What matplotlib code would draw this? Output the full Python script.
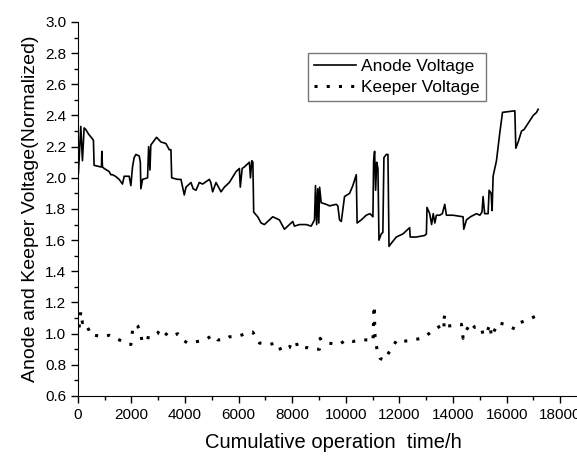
import matplotlib
matplotlib.use("Agg")
import matplotlib.pyplot as plt
from matplotlib.ticker import MultipleLocator

plt.rcParams['font.family'] = ['Liberation Sans', 'DejaVu Sans']

# anode voltage trace (time in h, normalized voltage)
anode_t = [20, 108, 170, 232, 295, 400, 543, 580, 605, 855, 880, 893, 917, 980,
           1166, 1230, 1291, 1400, 1540, 1664, 1727, 1914, 1977, 2038, 2100, 2164,
           2288, 2330, 2350, 2412, 2600, 2640, 2690, 2720, 2762, 2935, 3098, 3285,
           3410, 3472, 3500, 3720, 3846, 3970, 4033, 4220, 4300, 4407, 4530, 4654,
           4904, 4960, 5028, 5155, 5340, 5465, 5652, 5902, 6026, 6060, 6130, 6213,
           6400, 6440, 6490, 6530, 6560, 6710, 6837, 6960, 7084, 7270, 7520, 7708,
           7895, 8018, 8080, 8268, 8518, 8705, 8830, 8866, 8910, 8950, 8990, 9020,
           9080, 9267, 9390, 9640, 9700, 9764, 9830, 9950, 10138, 10260, 10388,
           10420, 10575, 10760, 10900, 11010, 11035, 11072, 11110, 11150, 11197,
           11235, 11320, 11380, 11420, 11510, 11570, 11610, 11695, 11880, 12130,
           12380, 12400, 12630, 12940, 13005, 13028, 13128, 13200, 13260, 13320,
           13378, 13500, 13600, 13690, 13752, 14000, 14374, 14400, 14500, 14650,
           14873, 15000, 15080, 15120, 15180, 15307, 15345, 15420, 15457, 15494,
           15620, 15745, 15845, 16305, 16342, 16430, 16555, 16650, 16803, 16990,
           17116, 17176]
anode_v = [2.03, 2.33, 2.11, 2.32, 2.31, 2.28, 2.25, 2.24, 2.08, 2.07, 2.07, 2.17, 2.07, 2.06,
           2.04, 2.02, 2.02, 2.01, 1.99, 1.96, 2.01, 2.01, 1.95, 2.07, 2.13, 2.15,
           2.14, 2.10, 1.93, 1.99, 2.00, 2.20, 2.05, 2.21, 2.22, 2.26, 2.23, 2.22,
           2.18, 2.18, 2.00, 1.99, 1.99, 1.89, 1.94, 1.97, 1.93, 1.92, 1.97, 1.96,
           1.99, 1.97, 1.91, 1.97, 1.91, 1.94, 1.97, 2.04, 2.06, 1.94, 2.06, 2.07,
           2.10, 2.00, 2.11, 2.10, 1.78, 1.75, 1.71, 1.70, 1.72, 1.75, 1.73, 1.67,
           1.70, 1.72, 1.69, 1.70, 1.70, 1.69, 1.73, 1.95, 1.70, 1.93, 1.71, 1.94,
           1.84, 1.83, 1.82, 1.83, 1.82, 1.73, 1.72, 1.88, 1.90, 1.95, 2.02,
           1.71, 1.73, 1.76, 1.77, 1.75, 2.11, 2.17, 1.92, 2.10, 2.06,
           1.60, 1.64, 1.65, 2.13, 2.15, 2.15, 1.56, 1.58, 1.62, 1.64,
           1.68, 1.62, 1.62, 1.63, 1.64, 1.81, 1.77, 1.70, 1.77, 1.71,
           1.76, 1.76, 1.77, 1.83, 1.76, 1.76, 1.75, 1.67, 1.73, 1.75,
           1.77, 1.76, 1.78, 1.88, 1.77, 1.77, 1.92, 1.90, 1.79, 2.01,
           2.11, 2.29, 2.42, 2.43, 2.19, 2.23, 2.30, 2.31, 2.35, 2.40,
           2.42, 2.44]

# keeper voltage trace
keeper_t = [45, 108, 170, 230, 420, 480, 605, 980, 1166, 1290, 1540, 1977, 2040,
            2164, 2230, 2350, 2390, 2475, 2725, 2972, 3060, 3346, 3510, 3720, 3906,
            4093, 4467, 4716, 4840, 5028, 5215, 5465, 5652, 5902, 6276, 6525, 6773,
            7084, 7457, 7582, 7895, 7956, 8145, 8205, 8580, 8767, 9016, 9040, 9117,
            9326, 9740, 10014, 10262, 10575, 10885, 11010, 11030, 11045, 11060, 11072,
            11090, 11160, 11285, 11445, 11607, 11730, 11905, 12130, 12504, 12817,
            13100, 13250, 13437, 13625, 13690, 13650, 13700, 13875, 14313, 14375,
            14430, 14650, 14810, 15060, 15120, 15245, 15370, 15435, 15680, 15930,
            16305, 16490, 16803, 17053, 17176]
keeper_v = [1.04, 1.14, 1.07, 1.08, 1.02, 0.99, 0.99, 0.98, 0.99, 0.98, 0.96, 0.93, 1.02,
            1.06, 1.05, 1.00, 0.95, 0.98, 0.97, 1.00, 1.03, 0.99, 0.98, 1.00, 0.96,
            0.94, 0.95, 0.96, 0.97, 0.99, 0.96, 0.96, 0.98, 0.98, 1.00, 1.01, 0.94,
            0.93, 0.94, 0.89, 0.91, 0.94, 0.95, 0.91, 0.91, 0.90, 0.90, 0.97, 0.95,
            0.94, 0.93, 0.96, 0.95, 0.96, 0.96, 0.95, 1.06, 1.15, 1.18, 1.08,
            0.98, 0.90, 0.84, 0.83, 0.88, 0.91, 0.96, 0.95, 0.96, 0.97,
            1.00, 1.02, 1.04, 1.06, 1.12, 1.03, 1.05, 1.05, 1.06, 0.97,
            1.00, 1.07, 1.04, 1.04, 0.99, 1.00, 1.06, 0.98, 1.07, 1.06,
            1.03, 1.07, 1.09, 1.11, 1.11]

fig = plt.figure(figsize=(5.77, 4.57), dpi=100)
ax = fig.add_axes([0.135, 0.1335, 0.865, 0.8184])

ax.plot(anode_t, anode_v, color='black', lw=1.2, label='Anode Voltage')
ax.plot(keeper_t, keeper_v, color='black', lw=2.2, linestyle=(0, (1, 3)),
        label='Keeper Voltage')

ax.set_xlim(0, 18625)
ax.set_ylim(0.6, 3.0)
ax.xaxis.set_major_locator(MultipleLocator(2000))
ax.xaxis.set_minor_locator(MultipleLocator(1000))
ax.yaxis.set_major_locator(MultipleLocator(0.2))
ax.yaxis.set_minor_locator(MultipleLocator(0.1))
ax.set_yticks([0.6 + 0.2 * i for i in range(13)])
ax.set_yticklabels([f"{0.6 + 0.2 * i:.1f}" for i in range(13)])

ax.spines['top'].set_visible(False)
ax.spines['right'].set_visible(False)
ax.tick_params(which='major', direction='out', length=5, width=1, labelsize=11)
ax.tick_params(which='minor', direction='out', length=3, width=1)

ax.set_xlabel('Cumulative operation  time/h', fontsize=14.5, labelpad=8)
ax.xaxis.set_label_coords(0.512, -0.1)
ax.set_ylabel('Anode and Keeper Voltage(Normalized)', fontsize=14, labelpad=4)

leg = ax.legend(loc='upper left', bbox_to_anchor=(308 / 577, 1 - 53 / 457),
                bbox_transform=fig.transFigure, borderaxespad=0, fontsize=12.5,
                frameon=True, fancybox=False, edgecolor='#555555', handlelength=2.4,
                handletextpad=0.3, borderpad=0.35, labelspacing=0.3)
leg.get_frame().set_linewidth(1)

fig.savefig('out.png', dpi=100)
